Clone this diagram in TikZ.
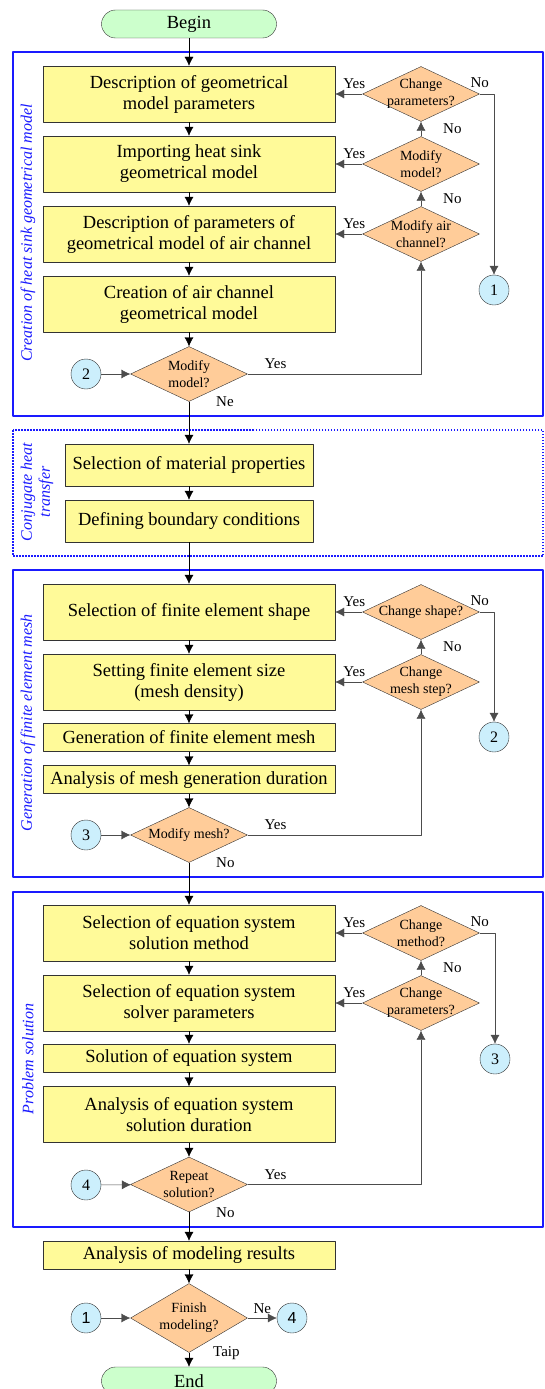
\documentclass[tikz,border=0pt]{standalone}
\usepackage{fontspec}
\setmainfont{Liberation Serif}
\newfontfamily\arialfont{Liberation Sans}
\usetikzlibrary{shapes.geometric,arrows.meta}
\definecolor{peach}{HTML}{FFCC99}
\definecolor{frameblue}{HTML}{1A1AFF}
\begin{document}
\begin{tikzpicture}[x=1pt, y=-1pt, line join=round, >={Latex[length=9pt,width=9pt]},
	every node/.style={font=\fontsize{15}{17}\selectfont},
	box/.style={draw=black!80, fill=yellow!40, minimum width=292pt, minimum height=56pt, align=center, inner sep=1pt, font=\fontsize{18.5}{21}\selectfont},
	sbox/.style={box, minimum height=28pt},
	mbox/.style={box, minimum width=248pt, minimum height=42pt},
	term/.style={box, fill=green!20, rounded corners=14pt, minimum width=175pt, minimum height=28pt},
	dec/.style={diamond, draw=black!80, fill=peach, minimum width=117pt, minimum height=55pt, inner sep=0pt, label={[dtxt]center:#1}},
	dtxt/.style={align=center, font=\fontsize{14}{17}\selectfont},
	conn/.style={circle, draw=black!80, fill=cyan!20, minimum size=30pt, inner sep=0pt, font=\fontsize{16}{16}\selectfont},
	lbl/.style={inner sep=1pt},
	loop/.style={draw=black!70},
	frame/.style={draw=frameblue, line width=1.2pt},
	grp/.style={text=frameblue, font=\itshape\fontsize{16}{18}\selectfont}]
	\useasboundingbox (0,0) rectangle (544,1389);
	\draw[frame] (13,52) rectangle (543,416);
	\draw[frame, dash pattern=on 1.5pt off 1.5pt] (13,430) rectangle (543,556);
	\draw[frame] (13,570) rectangle (543,877);
	\draw[frame] (13,892) rectangle (543,1227);
	\node[grp, rotate=90] (t1) at (28,233) {Creation of heat sink geometrical model};
	\node[grp, rotate=90, align=center] (t2) at (37,492) {Conjugate heat\\transfer};
	\node[grp, rotate=90] (t3) at (28,723) {Generation of finite element mesh};
	\node[grp, rotate=90] (t4) at (28,1059) {Problem solution};
	\node[term] (begin) at (189,24) {Begin};
	\node[box] (b1) at (189,94) {Description of geometrical\\model parameters};
	\node[box] (b2) at (189,164) {Importing heat sink\\geometrical model};
	\node[box] (b3) at (189,234) {Description of parameters of\\geometrical model of air channel};
	\node[box] (b4) at (189,304) {Creation of air channel\\geometrical model};
	\node[dec={Modify\\model?}] (m1) at (189,374) {};
	\node[conn] (c2a) at (86,374) {2};
	\node[dec={Change\\parameters?}] (d1) at (421,94) {};
	\node[dec={Modify\\model?}] (d2) at (421,164) {};
	\node[dec={Modify air\\channel?}] (d3) at (421,234) {};
	\node[conn] (c1a) at (494,290) {1};
	\node[mbox] (p1) at (189,465) {Selection of material properties};
	\node[mbox] (p2) at (189,521) {Defining boundary conditions};
	\node[box] (g1) at (189,612) {Selection of finite element shape};
	\node[box] (g2) at (189,682) {Setting finite element size\\(mesh density)};
	\node[sbox] (g3) at (189,737.5) {Generation of finite element mesh};
	\node[sbox] (g4) at (189,779.5) {Analysis of mesh generation duration};
	\node[dec={Modify mesh?}] (m2) at (189,835) {};
	\node[conn] (c3a) at (86,835) {3};
	\node[dec={Change shape?}] (d4) at (421,612) {};
	\node[dec={Change\\mesh step?}] (d5) at (421,682) {};
	\node[conn] (c2b) at (494,737) {2};
	\node[box] (s1) at (189,933) {Selection of equation system\\solution method};
	\node[box] (s2) at (189,1003) {Selection of equation system\\solver parameters};
	\node[sbox] (s3) at (189,1058) {Solution of equation system};
	\node[box] (s4) at (189,1114.5) {Analysis of equation system\\solution duration};
	\node[dec={Repeat\\solution?}] (m3) at (189,1184.5) {};
	\node[conn] (c4a) at (86,1185) {4};
	\node[dec={Change\\method?}] (d6) at (421,933) {};
	\node[dec={Change\\parameters?}] (d7) at (421,1003) {};
	\node[conn] (c3b) at (495,1059) {3};
	\node[sbox] (r) at (189,1255) {Analysis of modeling results};
	\node[dec={Finish\\modeling?}, minimum height=69pt] (fin) at (189,1318) {};
	\node[conn, font=\arialfont\fontsize{16}{16}\selectfont] (c1b) at (86,1318) {1};
	\node[conn, font=\arialfont\fontsize{16}{16}\selectfont] (c4b) at (292,1318) {4};
	\node[term] (end) at (189,1381) {End};
	\draw[->] (begin) -- (b1);
	\foreach \a/\b in {b1/b2,b2/b3,b3/b4,b4/m1,m1/p1,p1/p2,p2/g1,g1/g2,g2/g3,g3/g4,g4/m2,m2/s1,s1/s2,s2/s3,s3/s4,s4/m3,m3/r,r/fin,fin/end}
		\draw[->] (\a) -- (\b);
	\foreach \c/\m in {c2a/m1,c3a/m2,c4a/m3,c1b/fin}
		\draw[->, loop] (\c) -- (\m);
	\foreach \d/\b in {d1/b1,d2/b2,d3/b3,d4/g1,d5/g2,d6/s1,d7/s2}
		\draw[->, loop] (\d) -- node[lbl, pos=.3, above=4pt] {Yes} (\b);
	\foreach \a/\b in {d2/d1,d3/d2,d5/d4,d7/d6}
		\draw[->, loop] (\a) -- node[lbl, anchor=west, xshift=21pt] {No} (\b);
	\foreach \d/\c in {d1/c1a,d4/c2b,d6/c3b}
		\draw[->, loop] (\d.east) -| node[lbl, pos=0, above=5pt] {No} (\c);
	\foreach \m/\d in {m1/d3,m2/d5,m3/d7}
		\draw[->, loop] (\m.east) -| node[lbl, pos=.08, above=4pt] {Yes} (\d);
	\draw[->, loop] (fin) -- node[lbl, above=3pt] {Ne} (c4b);
	\node[lbl, anchor=west] (n1) at ([xshift=26pt]m1.south) {Ne};
	\node[lbl, anchor=west] (n2) at ([xshift=26pt]m2.south) {No};
	\node[lbl, anchor=west] (n3) at ([xshift=26pt]m3.south) {No};
	\node[lbl, anchor=west] (n4) at ([xshift=23pt]fin.south) {Taip};
\end{tikzpicture}
\end{document}
